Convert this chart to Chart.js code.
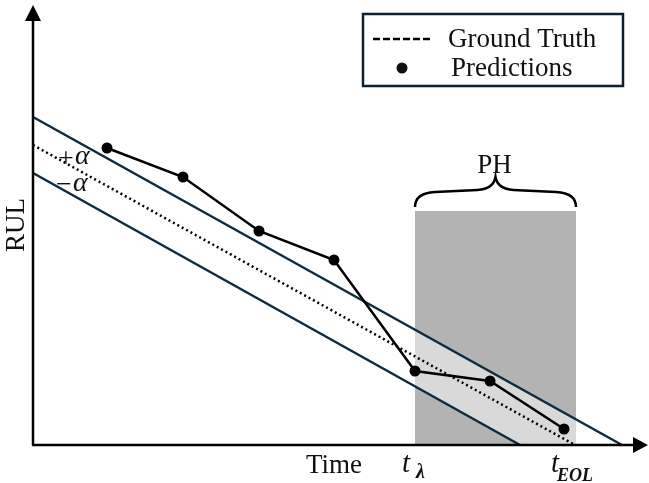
<!DOCTYPE html>
<html>
<head>
<meta charset="utf-8">
<script src="https://cdn.jsdelivr.net/npm/chart.js@4.4.1/dist/chart.umd.min.js"></script>
<style>
  html, body { margin: 0; padding: 0; background: #fff; }
  #wrap { width: 649px; height: 483px; position: relative; }
</style>
</head>
<body>
<div id="wrap"><canvas id="chart"></canvas></div>
<script>
// Time / RUL in arbitrary units
const gtTime = [0, 542];
const gtRul = [300, 0];
const upperTime = [0, 589];
const upperRul = [328, 0];
const lowerTime = [0, 487];
const lowerRul = [272, 0];
const predTime = [74, 150, 226, 301, 382, 457, 531];
const predRul = [297, 268, 214, 185, 74, 64, 16];
const phTime = [382, 543];   // t_lambda .. t_EOL
const phTop = 234;

const BAND = '#0d2b3e';
const SERIF = '"Liberation Serif", "DejaVu Serif", serif';

const pts = (xs, ys) => xs.map((x, i) => ({ x: x, y: ys[i] }));

// light band inside the prediction horizon, drawn right after the grey box
const bandPlugin = {
  id: 'band',
  afterDatasetDraw(chart, args) {
    if (args.index !== 5) return;
    const { ctx, scales: { x, y } } = chart;
    ctx.save();
    ctx.beginPath();
    ctx.rect(x.getPixelForValue(phTime[0]), y.getPixelForValue(phTop),
      x.getPixelForValue(phTime[1]) - x.getPixelForValue(phTime[0]),
      y.getPixelForValue(0) - y.getPixelForValue(phTop));
    ctx.clip();
    ctx.beginPath();
    ctx.moveTo(x.getPixelForValue(upperTime[0]), y.getPixelForValue(upperRul[0]));
    ctx.lineTo(x.getPixelForValue(upperTime[1]), y.getPixelForValue(upperRul[1]));
    ctx.lineTo(x.getPixelForValue(lowerTime[1]), y.getPixelForValue(lowerRul[1]));
    ctx.lineTo(x.getPixelForValue(lowerTime[0]), y.getPixelForValue(lowerRul[0]));
    ctx.closePath();
    ctx.fillStyle = '#d9d9d9';
    ctx.fill();
    ctx.restore();
  }
};

// axes, arrows, labels, brace, legend
const decoPlugin = {
  id: 'deco',
  afterDraw(chart) {
    const { ctx, scales: { x, y } } = chart;
    const x0 = x.getPixelForValue(0), y0 = y.getPixelForValue(0);
    ctx.save();
    ctx.strokeStyle = '#000';
    ctx.fillStyle = '#000';
    ctx.lineWidth = 2.5;

    // axes
    ctx.beginPath();
    ctx.moveTo(x0, y0); ctx.lineTo(x0, 18);
    ctx.moveTo(x0 - 1, y0); ctx.lineTo(636, y0);
    ctx.stroke();
    ctx.beginPath();
    ctx.moveTo(x0, 5); ctx.lineTo(x0 - 8, 21); ctx.lineTo(x0 + 8, 21); ctx.closePath();
    ctx.fill();
    ctx.beginPath();
    ctx.moveTo(648, y0); ctx.lineTo(633, y0 - 8); ctx.lineTo(633, y0 + 8); ctx.closePath();
    ctx.fill();

    ctx.fillStyle = '#111';
    ctx.textBaseline = 'alphabetic';
    ctx.textAlign = 'left';

    // axis titles
    ctx.font = '27px ' + SERIF;
    ctx.fillText('Time', 306, 473);
    ctx.save();
    ctx.translate(24, 225);
    ctx.rotate(-Math.PI / 2);
    ctx.textAlign = 'center';
    ctx.fillText('RUL', 0, 0);
    ctx.restore();

    // t_lambda and t_EOL
    const tl = x.getPixelForValue(phTime[0]);
    const te = x.getPixelForValue(phTime[1]);
    ctx.font = 'italic 29px ' + SERIF;
    ctx.fillText('t', tl - 13, 472);
    ctx.fillText('t', te - 25, 472);
    ctx.font = 'italic bold 20px ' + SERIF;
    ctx.fillText('\u03bb', tl + 1, 478);
    ctx.font = 'italic bold 18px ' + SERIF;
    ctx.fillText('EOL', te - 19, 481);

    // +alpha / -alpha
    ctx.font = '28px ' + SERIF;
    ctx.fillText('+', 58, 167);
    ctx.fillText('\u2212', 56, 193);
    ctx.font = 'italic 28px ' + SERIF;
    ctx.fillText('\u03b1', 75, 164);
    ctx.fillText('\u03b1', 73, 191);

    // PH brace
    const mid = (tl + te) / 2;
    ctx.lineWidth = 2.5;
    ctx.beginPath();
    ctx.moveTo(tl, 207);
    ctx.quadraticCurveTo(tl, 193, tl + 20, 192);
    ctx.lineTo(mid - 18, 190);
    ctx.quadraticCurveTo(mid - 2, 189, mid, 177);
    ctx.quadraticCurveTo(mid + 2, 189, mid + 18, 190);
    ctx.lineTo(te - 20, 192);
    ctx.quadraticCurveTo(te, 193, te, 207);
    ctx.stroke();
    ctx.font = '27px ' + SERIF;
    ctx.textAlign = 'center';
    ctx.fillText('PH', mid - 1, 173);

    // legend
    ctx.textAlign = 'left';
    ctx.lineWidth = 2.5;
    ctx.strokeStyle = '#0d2030';
    ctx.strokeRect(363, 14, 260, 72);
    ctx.strokeStyle = '#000';
    ctx.setLineDash([7, 3]);
    ctx.beginPath();
    ctx.moveTo(373, 39); ctx.lineTo(430, 39);
    ctx.stroke();
    ctx.setLineDash([]);
    ctx.beginPath();
    ctx.arc(402, 68, 5.5, 0, Math.PI * 2);
    ctx.fill();
    ctx.fillStyle = '#111';
    ctx.font = '27px ' + SERIF;
    ctx.fillText('Ground Truth', 448, 47);
    ctx.fillText('Predictions', 451, 76);
    ctx.restore();
  }
};

new Chart(document.getElementById('chart'), {
  type: 'scatter',
  plugins: [bandPlugin, decoPlugin],
  data: {
    datasets: [
      {
        label: 'Predictions', data: pts(predTime, predRul), showLine: true,
        borderColor: '#000', borderWidth: 2.5, pointRadius: 5.5,
        pointBackgroundColor: '#000', pointBorderWidth: 0, clip: false
      },
      {
        label: 'Ground Truth', data: pts(gtTime, gtRul), showLine: true,
        borderColor: '#000', borderWidth: 2.5, borderDash: [2, 3], pointRadius: 0
      },
      {
        label: '+alpha', data: pts(upperTime, upperRul), showLine: true,
        borderColor: BAND, borderWidth: 2.5, pointRadius: 0
      },
      {
        label: '-alpha', data: pts(lowerTime, lowerRul), showLine: true,
        borderColor: BAND, borderWidth: 2.5, pointRadius: 0
      },
      { label: 'spacer', data: [], showLine: false, pointRadius: 0 },
      {
        label: 'PH', data: pts(phTime, [phTop, phTop]), showLine: true,
        borderWidth: 0, borderColor: 'rgba(0,0,0,0)', backgroundColor: '#b3b3b3',
        fill: 'origin', pointRadius: 0
      }
    ]
  },
  options: {
    responsive: true,
    maintainAspectRatio: false,
    animation: false,
    layout: { padding: 0, autoPadding: false },
    plugins: { legend: { display: false }, tooltip: { enabled: false } },
    scales: {
      x: { type: 'linear', display: false, min: -33, max: 616 },
      y: { type: 'linear', display: false, min: -38, max: 445 }
    }
  }
});
</script>
</body>
</html>
